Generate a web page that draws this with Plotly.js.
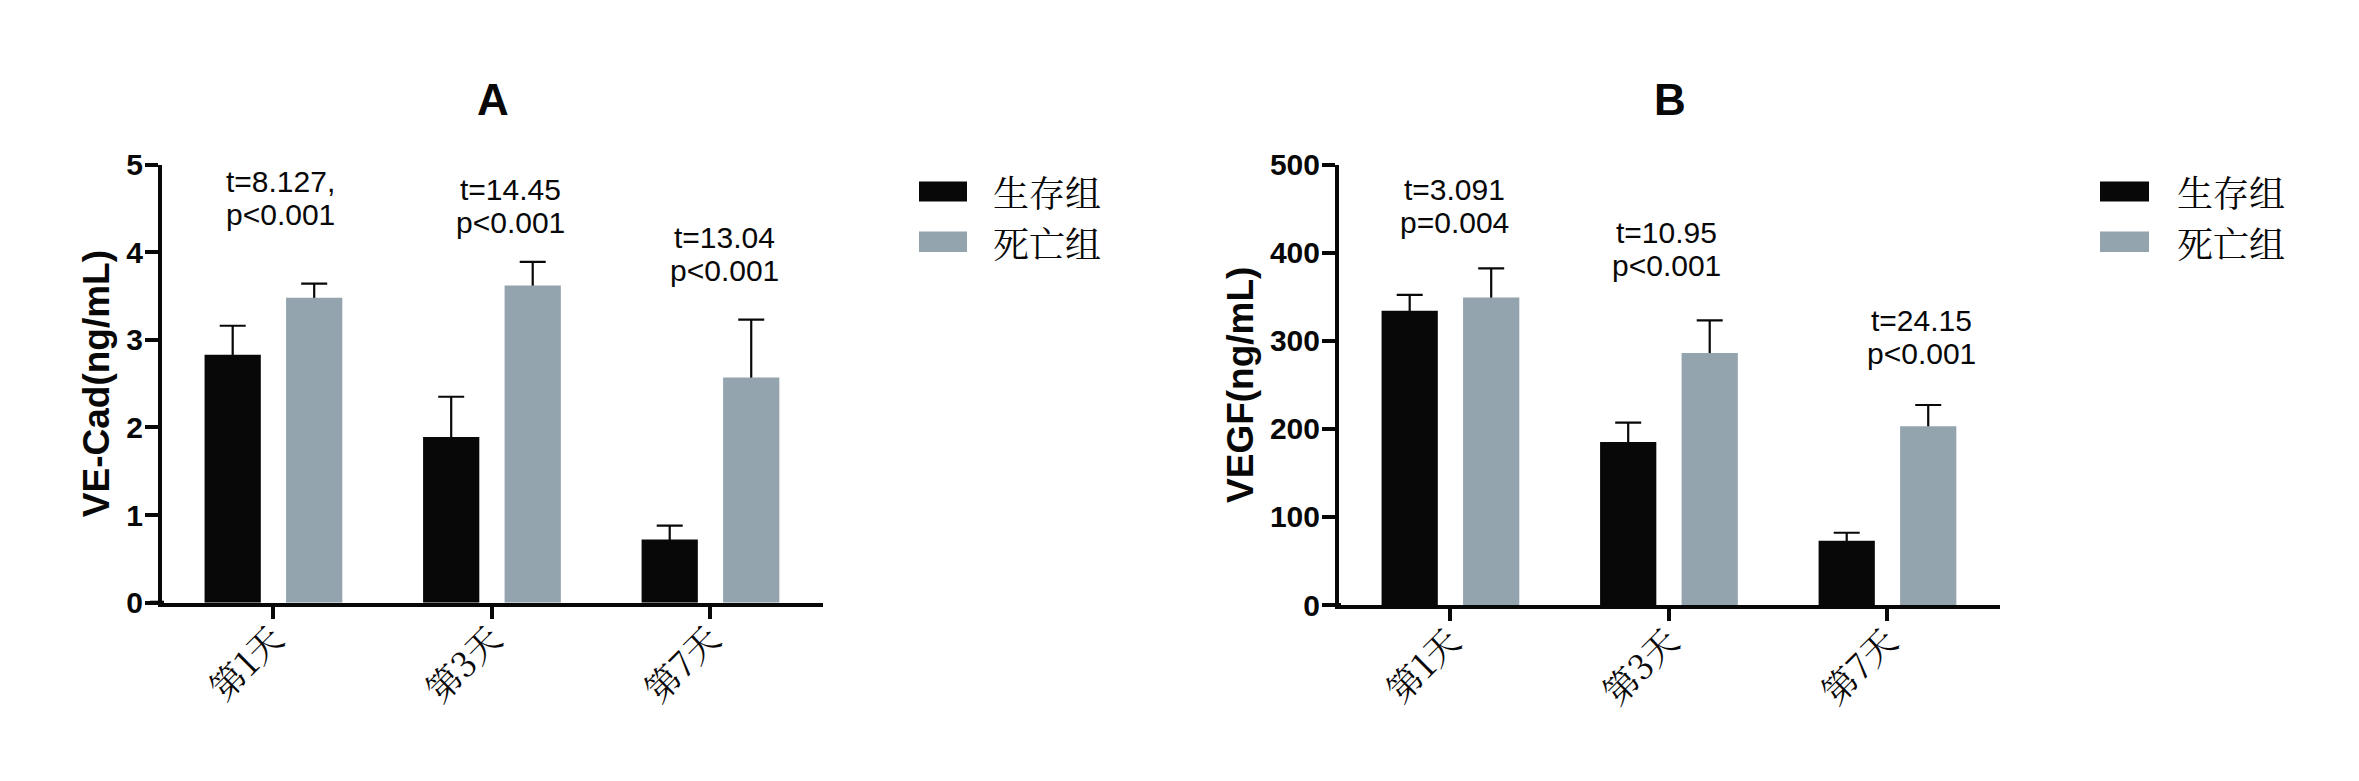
<!DOCTYPE html>
<html>
<head>
<meta charset="utf-8">
<script src="https://cdn.plot.ly/plotly-3.0.1.min.js"></script>
<style>html,body{margin:0;padding:0;background:#fff;}#chart{width:2359px;height:781px;}</style>
</head>
<body>
<div id="chart"></div>
<script>
// ---- data ----
const categories = ['第1天', '第3天', '第7天'];
const seriesNames = ['生存组', '死亡组'];

// Panel A: VE-Cad (ng/mL)
const vecadSurvive = [2.83, 1.89, 0.72];
const vecadSurviveErr = [0.33, 0.46, 0.16];
const vecadDeath = [3.48, 3.62, 2.57];
const vecadDeathErr = [0.16, 0.27, 0.66];
const tStatsA = ['t=8.127,', 't=14.45', 't=13.04'];
const pStatsA = ['p<0.001', 'p<0.001', 'p<0.001'];

// Panel B: VEGF (ng/mL)
const vegfSurvive = [334, 185, 73];
const vegfSurviveErr = [18, 22, 9];
const vegfDeath = [349, 286, 203];
const vegfDeathErr = [33, 37, 24];
const tStatsB = ['t=3.091', 't=10.95', 't=24.15'];
const pStatsB = ['p=0.004', 'p<0.001', 'p<0.001'];

// ---- style ----
const BLACK = 'rgb(8,8,8)';
const GRAY = 'rgb(147,164,175)';
const CLEAR = 'rgba(0,0,0,0)';
const SANS = 'Liberation Sans, Arial, sans-serif';
const CJK = 'Noto Serif CJK SC, Noto Sans CJK SC, sans-serif';

// error-bar layer (underneath): transparent bars carrying the error bars
function errTrace(y, err, name, xa, ya) {
  return {
    type: 'bar', x: categories, y: y, name: name,
    marker: {color: CLEAR, line: {width: 0}},
    error_y: {type: 'data', symmetric: true, array: err, color: BLACK, thickness: 2.2, width: 13},
    xaxis: xa, yaxis: ya, showlegend: false, hoverinfo: 'none'
  };
}
// bar layer (on top): opaque bars hide the lower half of the error bars
function barTrace(y, color, name, xa, ya) {
  return {
    type: 'bar', x: categories, y: y, name: name,
    marker: {color: color, line: {width: 0}},
    xaxis: xa, yaxis: ya, showlegend: false, hoverinfo: 'none'
  };
}

const data = [
  errTrace(vecadSurvive, vecadSurviveErr, seriesNames[0], 'x', 'y'),
  errTrace(vecadDeath, vecadDeathErr, seriesNames[1], 'x', 'y'),
  errTrace(vegfSurvive, vegfSurviveErr, seriesNames[0], 'x2', 'y2'),
  errTrace(vegfDeath, vegfDeathErr, seriesNames[1], 'x2', 'y2'),
  barTrace(vecadSurvive, BLACK, seriesNames[0], 'x3', 'y3'),
  barTrace(vecadDeath, GRAY, seriesNames[1], 'x3', 'y3'),
  barTrace(vegfSurvive, BLACK, seriesNames[0], 'x4', 'y4'),
  barTrace(vegfDeath, GRAY, seriesNames[1], 'x4', 'y4')
];

const XRANGE = [-0.51, 2.515];
function xAxis(domain, anchor) {
  return {
    domain: domain, anchor: anchor, type: 'category', range: XRANGE,
    showline: true, linecolor: BLACK, linewidth: 4,
    ticks: 'outside', ticklen: 12, tickwidth: 4, tickcolor: BLACK,
    tickangle: -45, ticklabelstandoff: -14,
    tickfont: {family: CJK, size: 35, color: BLACK},
    showgrid: false, zeroline: false, fixedrange: true
  };
}
function yAxis(domain, anchor, range, dtick, title) {
  return {
    domain: domain, anchor: anchor, range: range, dtick: dtick,
    showline: true, linecolor: BLACK, linewidth: 4,
    ticks: 'outside', ticklen: 13, tickwidth: 4, tickcolor: BLACK,
    ticklabelstandoff: -4,
    tickfont: {family: SANS, size: 30, color: BLACK, weight: 'bold'},
    showgrid: false, zeroline: false, fixedrange: true,
    title: {text: title, font: {family: SANS, size: 37, color: BLACK, weight: 'bold'}, standoff: 6}
  };
}
function xOver(base, anchor) {
  return {overlaying: base, anchor: anchor, type: 'category', range: XRANGE,
    showline: true, linecolor: BLACK, linewidth: 4, ticks: '', showticklabels: false,
    showgrid: false, zeroline: false, fixedrange: true};
}
function yOver(base, anchor, range) {
  return {overlaying: base, anchor: anchor, range: range, visible: false,
    showgrid: false, zeroline: false, fixedrange: true};
}

const annotations = [];
const statFont = {family: SANS, size: 30, color: BLACK};
// [x (category position), y of t-line, y of p-line] in data units
const posA = [[0.03, 4.81, 4.43], [1.087, 4.72, 4.34], [2.066, 4.17, 3.79]];
const posB = [[0.02, 472, 434], [0.987, 423, 385], [2.155, 323, 285]];
function addStats(tArr, pArr, pos, xr, yr) {
  tArr.forEach((t, i) => {
    annotations.push({xref: xr, yref: yr, x: pos[i][0], y: pos[i][1], text: t, showarrow: false,
      font: statFont, xanchor: 'center', yanchor: 'middle'});
    annotations.push({xref: xr, yref: yr, x: pos[i][0], y: pos[i][2], text: pArr[i], showarrow: false,
      font: statFont, xanchor: 'center', yanchor: 'middle'});
  });
}
addStats(tStatsA, pStatsA, posA, 'x', 'y');
addStats(tStatsB, pStatsB, posB, 'x2', 'y2');

// panel titles
[['A', 492.5], ['B', 1669.5]].forEach(([t, px]) => annotations.push({
  xref: 'paper', yref: 'paper', x: px / 2359, y: 1 - 99 / 781, text: t, showarrow: false,
  font: {family: SANS, size: 44, color: BLACK, weight: 'bold'}, xanchor: 'center', yanchor: 'middle'
}));

// manual legends (wide swatches)
const shapes = [];
const legendSpecs = [{sx0: 919, sx1: 967, tx: 991}, {sx0: 2100, sx1: 2149, tx: 2175}];
const rowY = [[181.5, 201.5, 191], [231.5, 252, 242]];
const colors = [BLACK, GRAY];
legendSpecs.forEach(L => {
  seriesNames.forEach((nm, r) => {
    shapes.push({type: 'rect', xref: 'paper', yref: 'paper',
      x0: L.sx0 / 2359, x1: L.sx1 / 2359, y0: 1 - rowY[r][1] / 781, y1: 1 - rowY[r][0] / 781,
      fillcolor: colors[r], line: {width: 0}});
    annotations.push({xref: 'paper', yref: 'paper', x: L.tx / 2359, y: 1 - rowY[r][2] / 781,
      text: nm, showarrow: false, xanchor: 'left', yanchor: 'middle',
      font: {family: CJK, size: 36, color: BLACK}});
  });
});
// x-axis line stub extending left of the y-axis (as in the original)
[[150, 164, 602.7], [1327, 1341, 605]].forEach(([a, b, yy]) => shapes.push({
  type: 'line', xref: 'paper', yref: 'paper', x0: a / 2359, x1: b / 2359,
  y0: 1 - yy / 781, y1: 1 - yy / 781, line: {color: BLACK, width: 4}
}));

const layout = {
  width: 2359, height: 781,
  margin: {l: 0, r: 0, t: 0, b: 0, pad: 0},
  paper_bgcolor: '#ffffff', plot_bgcolor: 'rgba(0,0,0,0)',
  barmode: 'group', bargap: 0.254, bargroupgap: 0.31,
  showlegend: false,
  xaxis: xAxis([162 / 2359, 823 / 2359], 'y'),
  yaxis: yAxis([1 - 602.7 / 781, 1 - 164.5 / 781], 'x', [0, 5], 1, 'VE-Cad(ng/mL)'),
  xaxis2: xAxis([1339 / 2359, 2000 / 2359], 'y2'),
  yaxis2: yAxis([1 - 605 / 781, 1 - 164.5 / 781], 'x2', [0, 500], 100, 'VEGF(ng/mL)'),
  xaxis3: xOver('x', 'y3'),
  yaxis3: yOver('y', 'x3', [0, 5]),
  xaxis4: xOver('x2', 'y4'),
  yaxis4: yOver('y2', 'x4', [0, 500]),
  annotations: annotations,
  shapes: shapes
};

Plotly.newPlot('chart', data, layout, {displayModeBar: false, staticPlot: true});
</script>
</body>
</html>
